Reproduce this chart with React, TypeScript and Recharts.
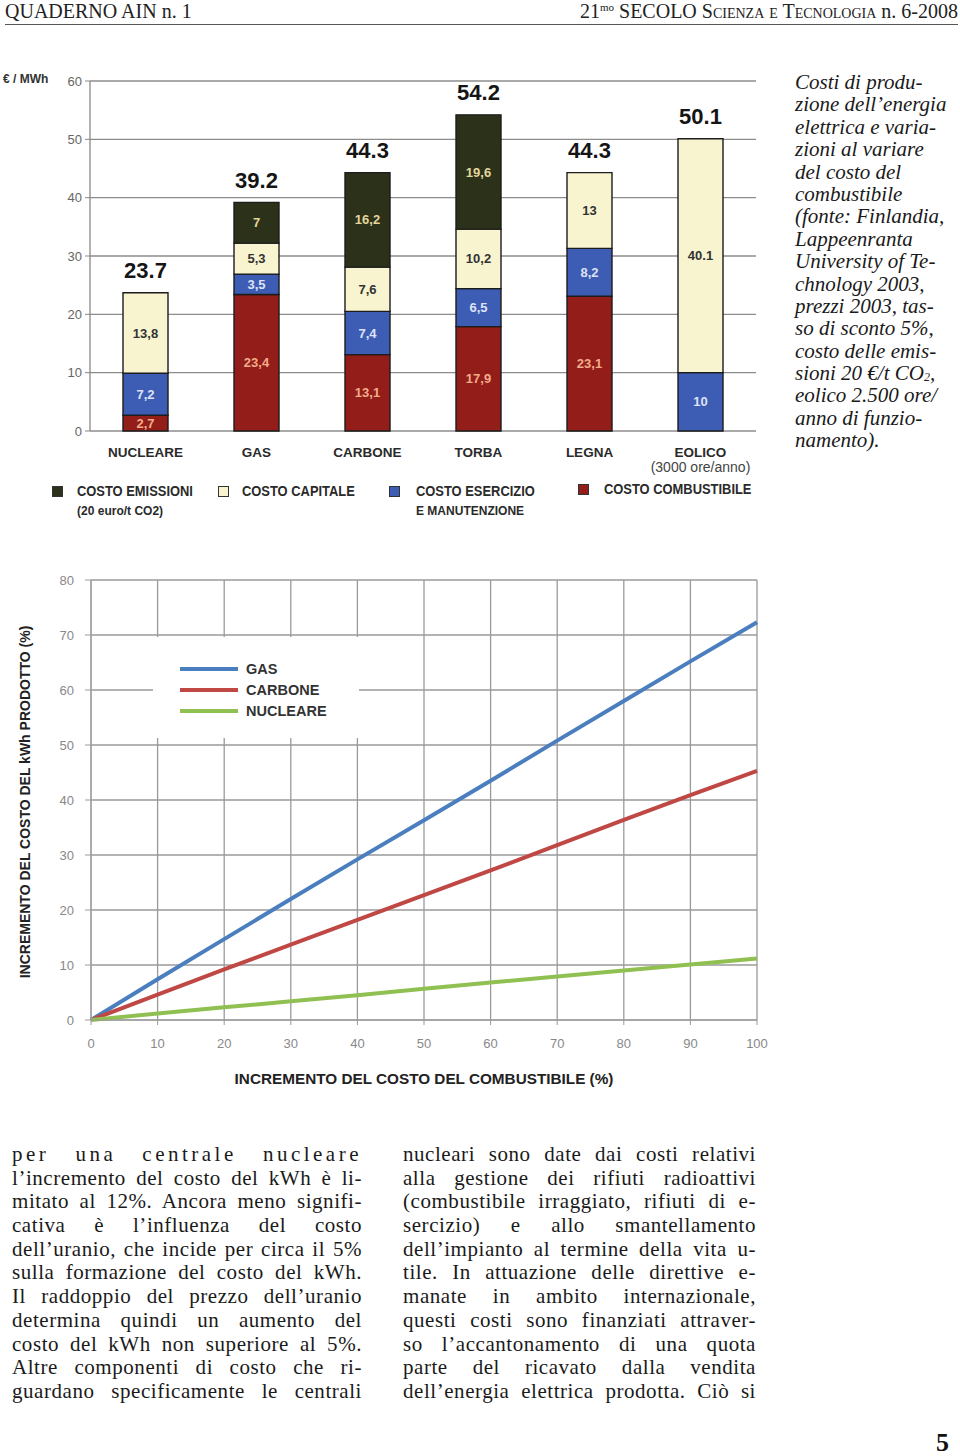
import React from 'react';
import {
  BarChart, Bar, XAxis, YAxis, CartesianGrid, LabelList,
  LineChart, Line, Legend, Label,
} from 'recharts';

// ---------- data: bar chart ----------
const categories = ['NUCLEARE', 'GAS', 'CARBONE', 'TORBA', 'LEGNA', 'EOLICO'];
const categorySub = ['', '', '', '', '', '(3000 ore/anno)'];
const combustibile = [2.7, 23.4, 13.1, 17.9, 23.1, 0];
const esercizio = [7.2, 3.5, 7.4, 6.5, 8.2, 10];
const capitale = [13.8, 5.3, 7.6, 10.2, 13, 40.1];
const emissioni = [0, 7, 16.2, 19.6, 0, 0];
const totals = [23.7, 39.2, 44.3, 54.2, 44.3, 50.1];
const barTicks = [0, 10, 20, 30, 40, 50, 60];

// ---------- data: line chart ----------
const fuelIncrease = [0, 10, 20, 30, 40, 50, 60, 70, 80, 90, 100];
const gasLine = [0, 7.4, 14.7, 22, 29.2, 36.3, 43.5, 50.8, 58, 65.2, 72.3];
const carboneLine = [0, 4.6, 9.2, 13.7, 18.2, 22.7, 27.2, 31.8, 36.4, 40.9, 45.3];
const nucleareLine = [0, 1.2, 2.3, 3.4, 4.5, 5.7, 6.8, 7.9, 9, 10.1, 11.2];
const lineYTicks = [0, 10, 20, 30, 40, 50, 60, 70, 80];
const lineXTicks = [0, 10, 20, 30, 40, 50, 60, 70, 80, 90, 100];

const SANS = "'Liberation Sans', Arial, Helvetica, sans-serif";
const SERIF = "'Liberation Serif', 'Times New Roman', serif";

const C_EMI = '#2c3119';
const C_CAP = '#f7f4cf';
const C_ESE = '#3d5db5';
const C_COM = '#931d18';

const barData = categories.map((name, i) => ({
  name,
  combustibile: combustibile[i],
  esercizio: esercizio[i],
  capitale: capitale[i],
  emissioni: emissioni[i],
  // total label sits on whichever segment is on top of the stack
  topEmi: emissioni[i] > 0 ? totals[i] : null,
  topCap: emissioni[i] > 0 ? null : totals[i],
}));

const lineData = fuelIncrease.map((x, i) => ({
  x,
  gas: gasLine[i],
  carbone: carboneLine[i],
  nucleare: nucleareLine[i],
}));

const fmt = (v: number, index: number) =>
  index === 5 ? String(v) : String(v).replace('.', ',');

const segLabel = (color: string) => (props: any) => {
  const vb = props.viewBox || props;
  const { x, y, width, height } = vb;
  const value = props.value;
  if (!value) return null;
  return (
    <text
      x={x + width / 2}
      y={y + height / 2}
      textAnchor="middle"
      dominantBaseline="central"
      fill={color}
      fontSize={13}
      fontWeight="bold"
      fontFamily={SANS}
    >
      {fmt(value, props.index)}
    </text>
  );
};

const totalLabel = (props: any) => {
  const vb = props.viewBox || props;
  const { x, y, width } = vb;
  const value = props.value;
  if (value === null || value === undefined || value === '') return null;
  return (
    <text
      x={x + width / 2}
      y={y - 22}
      textAnchor="middle"
      dominantBaseline="central"
      fill="#151515"
      fontSize={22}
      fontWeight="bold"
      fontFamily={SANS}
    >
      {String(value)}
    </text>
  );
};

const CatTick = (props: any) => {
  const { x, y, payload, index } = props;
  const sub = categorySub[index] || '';
  return (
    <g>
      <text x={x} y={y + 26} textAnchor="middle" fill="#2a2a2a" fontSize={13.5} fontWeight="bold" fontFamily={SANS}>
        {payload.value}
      </text>
      {sub ? (
        <text x={x} y={y + 41} textAnchor="middle" fill="#444" fontSize={14} fontFamily={SANS}>
          {sub}
        </text>
      ) : null}
    </g>
  );
};

const CostChart = () => (
  <BarChart
    width={780}
    height={420}
    data={barData}
    margin={{ top: 21, right: 24, bottom: 4, left: 0 }}
    barCategoryGap={0}
    barSize={45}
  >
    <CartesianGrid vertical={false} stroke="#8c8c8c" strokeWidth={1.3} />
    <XAxis
      xAxisId="bnd"
      type="number"
      domain={[0, 6]}
      ticks={[0, 1, 2, 3, 4, 5, 6]}
      tick={false}
      tickSize={6}
      height={0}
      axisLine={{ stroke: '#888', strokeWidth: 1.3 }}
      tickLine={{ stroke: '#888' }}
    />
    <XAxis
      dataKey="name"
      tick={<CatTick />}
      tickLine={false}
      axisLine={false}
      tickSize={0}
      tickMargin={0}
      height={45}
      interval={0}
    />
    <YAxis
      width={90}
      domain={[0, 60]}
      ticks={barTicks}
      tickSize={5}
      tickMargin={3}
      tick={{ fill: '#666', fontSize: 13, fontFamily: SANS }}
      axisLine={{ stroke: '#888', strokeWidth: 1.3 }}
      tickLine={{ stroke: '#888' }}
    />
    <YAxis
      yAxisId="right"
      orientation="right"
      width={0}
      domain={[0, 60]}
      tick={false}
      tickLine={false}
      axisLine={{ stroke: '#999', strokeWidth: 1.3 }}
    />
    <Bar dataKey="combustibile" stackId="a" fill={C_COM} stroke="#1c1c1c" strokeWidth={1.4} isAnimationActive={false}>
      <LabelList dataKey="combustibile" content={segLabel('#f2ac8c')} />
    </Bar>
    <Bar dataKey="esercizio" stackId="a" fill={C_ESE} stroke="#1c1c1c" strokeWidth={1.4} isAnimationActive={false}>
      <LabelList dataKey="esercizio" content={segLabel('#dfe2f5')} />
    </Bar>
    <Bar dataKey="capitale" stackId="a" fill={C_CAP} stroke="#1c1c1c" strokeWidth={1.4} isAnimationActive={false}>
      <LabelList dataKey="capitale" content={segLabel('#333')} />
      <LabelList dataKey="topCap" content={totalLabel} />
    </Bar>
    <Bar dataKey="emissioni" stackId="a" fill={C_EMI} stroke="#1c1c1c" strokeWidth={1.4} isAnimationActive={false}>
      <LabelList dataKey="emissioni" content={segLabel('#e3d59c')} />
      <LabelList dataKey="topEmi" content={totalLabel} />
    </Bar>
  </BarChart>
);

const lineSeries = [
  { key: 'gas', name: 'GAS', color: '#4a7ebf' },
  { key: 'carbone', name: 'CARBONE', color: '#bf4744' },
  { key: 'nucleare', name: 'NUCLEARE', color: '#8fc051' },
];

const LineLegend = () => (
  <div>
    {lineSeries.map((s) => (
      <div key={s.key} style={{ display: 'flex', alignItems: 'center', height: 21 }}>
        <div style={{ width: 58, height: 4, background: s.color, marginRight: 8 }} />
        <span style={{ fontFamily: SANS, fontWeight: 'bold', fontSize: 14.5, color: '#333' }}>{s.name}</span>
      </div>
    ))}
  </div>
);

const FuelChart = () => (
  <LineChart
    width={780}
    height={540}
    data={lineData}
    margin={{ top: 20, right: 23, bottom: 10, left: 10 }}
  >
    <CartesianGrid stroke="#9a9a9a" strokeWidth={1.3} />
    <XAxis
      dataKey="x"
      type="number"
      domain={[0, 100]}
      ticks={lineXTicks}
      tickSize={5}
      tickMargin={14}
      height={70}
      tick={{ fill: '#888', fontSize: 13, fontFamily: SANS }}
      axisLine={{ stroke: '#9a9a9a' }}
      tickLine={{ stroke: '#9a9a9a' }}
    >
      <Label
        content={() => (
          <text x={424} y={524} textAnchor="middle" fill="#222" fontSize={15.3} fontWeight="bold" fontFamily={SANS}>
            INCREMENTO DEL COSTO DEL COMBUSTIBILE (%)
          </text>
        )}
      />
    </XAxis>
    <YAxis
      width={81}
      domain={[0, 80]}
      ticks={lineYTicks}
      tickSize={6}
      tickMargin={11}
      tick={{ fill: '#888', fontSize: 13, fontFamily: SANS }}
      axisLine={{ stroke: '#9a9a9a' }}
      tickLine={{ stroke: '#9a9a9a' }}
    >
      <Label
        content={() => (
          <text
            x={25}
            y={242}
            transform="rotate(-90 25 242)"
            textAnchor="middle"
            dominantBaseline="central"
            fill="#222"
            fontSize={14}
            fontWeight="bold"
            fontFamily={SANS}
          >
            INCREMENTO DEL COSTO DEL kWh PRODOTTO (%)
          </text>
        )}
      />
    </YAxis>
    <Legend
      layout="vertical"
      align="center"
      verticalAlign="middle"
      wrapperStyle={{
        left: 153,
        top: 77,
        width: 206,
        height: 101,
        background: '#fff',
        paddingLeft: 27,
        paddingTop: 21,
        boxSizing: 'border-box',
      }}
      content={<LineLegend />}
    />
    {lineSeries.map((s) => (
      <Line
        key={s.key}
        type="linear"
        dataKey={s.key}
        name={s.name}
        stroke={s.color}
        strokeWidth={4}
        dot={false}
        isAnimationActive={false}
      />
    ))}
  </LineChart>
);

const legendItems = [
  { color: C_EMI, x: 52, tx: 77, top: 482, lines: ['COSTO EMISSIONI', '(20 euro/t CO2)'] },
  { color: C_CAP, x: 218, tx: 242, top: 482, lines: ['COSTO CAPITALE'] },
  { color: C_ESE, x: 389, tx: 416, top: 482, lines: ['COSTO ESERCIZIO', 'E MANUTENZIONE'] },
  { color: C_COM, x: 578, tx: 604, top: 480, lines: ['COSTO COMBUSTIBILE'] },
];

const captionLines = [
  'Costi di produ-',
  'zione dell\u2019energia',
  'elettrica e varia-',
  'zioni al variare',
  'del costo del',
  'combustibile',
  '(fonte: Finlandia,',
  'Lappeenranta',
  'University of Te-',
  'chnology 2003,',
  'prezzi 2003, tas-',
  'so di sconto 5%,',
  'costo delle emis-',
  'CO2LINE',
  'eolico 2.500 ore/',
  'anno di funzio-',
  'namento).',
];

const leftCol = [
  'per una centrale nucleare',
  'l\u2019incremento del costo del kWh è li-',
  'mitato al 12%. Ancora meno signifi-',
  'cativa è l\u2019influenza del costo',
  'dell\u2019uranio, che incide per circa il 5%',
  'sulla formazione del costo del kWh.',
  'Il raddoppio del prezzo dell\u2019uranio',
  'determina quindi un aumento del',
  'costo del kWh non superiore al 5%.',
  'Altre componenti di costo che ri-',
  'guardano specificamente le centrali',
];

const rightCol = [
  'nucleari sono date dai costi relativi',
  'alla gestione dei rifiuti radioattivi',
  '(combustibile irraggiato, rifiuti di e-',
  'sercizio) e allo smantellamento',
  'dell\u2019impianto al termine della vita u-',
  'tile. In attuazione delle direttive e-',
  'manate in ambito internazionale,',
  'questi costi sono finanziati attraver-',
  'so l\u2019accantonamento di una quota',
  'parte del ricavato dalla vendita',
  'dell\u2019energia elettrica prodotta. Ciò si',
];

const Column = ({ lines, left, width, spaced }: { lines: string[]; left: number; width: number; spaced?: number }) => (
  <div style={{ position: 'absolute', left, top: 1143, width }}>
    {lines.map((l, i) => (
      <div
        key={i}
        style={{
          height: 23.7,
          lineHeight: '23.7px',
          fontFamily: SERIF,
          fontSize: 21,
          letterSpacing: spaced !== undefined && i === 0 ? spaced : 0.55,
          color: '#1a1a1a',
          textAlign: 'justify',
          textAlignLast: 'justify',
          whiteSpace: 'nowrap',
        } as any}
      >
        {l}
      </div>
    ))}
  </div>
);

export default function App() {
  return (
    <div style={{ position: 'absolute', left: 0, top: 0, width: 960, height: 1456, background: '#fff', overflow: 'hidden' }}>
      {/* header */}
      <div style={{ position: 'absolute', left: 5, top: 0, fontFamily: SERIF, fontSize: 20, lineHeight: '22px', color: '#222' }}>
        QUADERNO AIN n. 1
      </div>
      <div style={{ position: 'absolute', right: 2, top: 0, fontFamily: SERIF, fontSize: 20, lineHeight: '22px', color: '#222', whiteSpace: 'nowrap' }}>
        21<sup style={{ fontSize: 11, verticalAlign: 'top', lineHeight: '14px' }}>mo</sup> SECOLO{' '}
        <span style={{ fontVariant: 'small-caps' }}>Scienza e Tecnologia</span> n. 6-2008
      </div>
      <div style={{ position: 'absolute', left: 5, top: 24, width: 953, height: 1, background: '#555' }} />

      {/* bar chart */}
      <div style={{ position: 'absolute', left: 3, top: 72, fontFamily: SANS, fontWeight: 'bold', fontSize: 12, color: '#333' }}>
        € / MWh
      </div>
      <div style={{ position: 'absolute', left: 0, top: 60 }}>
        <CostChart />
      </div>
      {legendItems.map((it, i) => (
        <React.Fragment key={i}>
          <div
            style={{
              position: 'absolute',
              left: it.x,
              top: it.top + 4,
              width: 9,
              height: 9,
              background: it.color,
              border: '1px solid #333',
            }}
          />
          <div
            style={{
              position: 'absolute',
              left: it.tx,
              top: it.top,
              fontFamily: SANS,
              fontWeight: 'bold',
              color: '#2a2a2a',
              transform: 'scaleX(0.89)',
              transformOrigin: 'left top',
            }}
          >
            {it.lines.map((l, j) => (
              <div key={j} style={{ fontSize: j === 0 ? 14.5 : 13.5, lineHeight: '19px', whiteSpace: 'nowrap' }}>{l}</div>
            ))}
          </div>
        </React.Fragment>
      ))}

      {/* caption */}
      <div style={{ position: 'absolute', left: 795, top: 71, width: 165, fontFamily: SERIF, fontStyle: 'italic', fontSize: 21, color: '#1a1a1a' }}>
        {captionLines.map((l, i) => (
          <div key={i} style={{ height: 22.4, lineHeight: '22.4px', whiteSpace: 'nowrap' }}>
            {l === 'CO2LINE' ? (
              <span>
                sioni 20 €/t CO
                <span style={{ fontSize: 12, position: 'relative', top: 1 }}>2</span>,
              </span>
            ) : l}
          </div>
        ))}
      </div>

      {/* line chart */}
      <div style={{ position: 'absolute', left: 0, top: 560 }}>
        <FuelChart />
      </div>

      {/* body text */}
      <Column lines={leftCol} left={12} width={350} spaced={3.5} />
      <Column lines={rightCol} left={403} width={353} />

      <div style={{ position: 'absolute', left: 936, top: 1432, fontFamily: SERIF, fontWeight: 'bold', fontSize: 26, lineHeight: '22px', color: '#111' }}>
        5
      </div>
    </div>
  );
}
